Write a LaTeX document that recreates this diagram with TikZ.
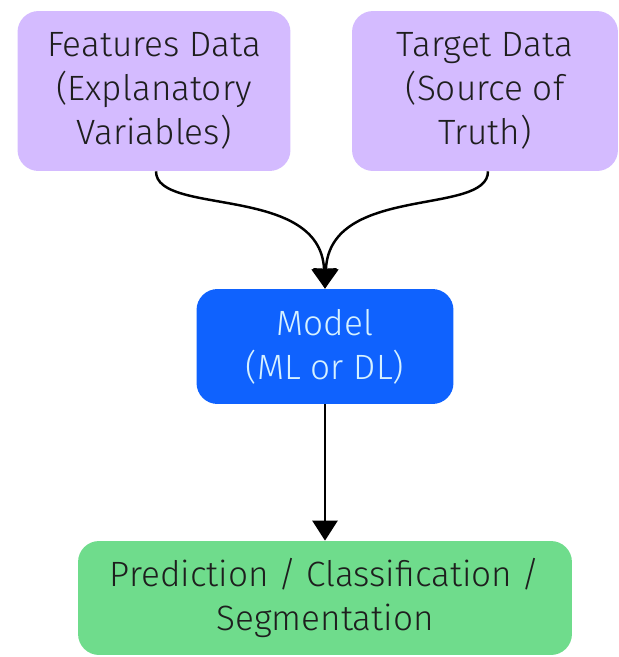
\documentclass[tikz,border=0pt]{standalone}
\usepackage{fontspec}
\setmainfont{Fira Sans}[UprightFont=* Light]
\usetikzlibrary{arrows.meta}
\definecolor{featpurple}{HTML}{D4BBFF}
\definecolor{modelblue}{HTML}{0F62FE}
\definecolor{modeltext}{HTML}{D6F1FF}
\definecolor{outgreen}{HTML}{6FDC8C}
\definecolor{inktext}{HTML}{1E1E1E}
\tikzset{
	databox/.style={rectangle, rounded corners=0.42cm, fill=featpurple, text=inktext, align=center, font=\fontsize{20}{25}\selectfont},
	flowarrow/.style={line width=1.4pt, -{Triangle[width=0.5cm, length=0.4cm]}}
}

\begin{document}
\begin{tikzpicture}[x=0.02cm, y=-0.02cm]
			%%%%% START %%%%%
			\useasboundingbox (0, 0) rectangle (619, 657);
			
			\node[databox, minimum width=5.46cm, minimum height=3.2cm] (features) at (154, 91) {Features Data\\(Explanatory\\Variables)};
			\node[databox, minimum width=5.32cm, minimum height=3.2cm] (target) at (485, 91) {Target Data\\(Source of\\Truth)};
			
			\node[databox, fill=modelblue, text=modeltext, minimum width=5.14cm, minimum height=2.3cm] (model) at (325, 346.5) {Model\\(ML or DL)};
			
			\node[databox, fill=outgreen, minimum width=9.88cm, minimum height=2.28cm] (output) at (325, 598) {Prediction / Classification /\\Segmentation};
			
			\draw[flowarrow] ([xshift=0.04cm]features.south) .. controls +(0, 45) and +(-5, -105) .. (model.north);
			\draw[flowarrow] ([xshift=0.06cm]target.south) .. controls +(0, 45) and +(5, -105) .. (model.north);
			
			\draw[flowarrow] (model.south) -- (output.north);
			%%%%% END %%%%%
		\end{tikzpicture}
\end{document}
